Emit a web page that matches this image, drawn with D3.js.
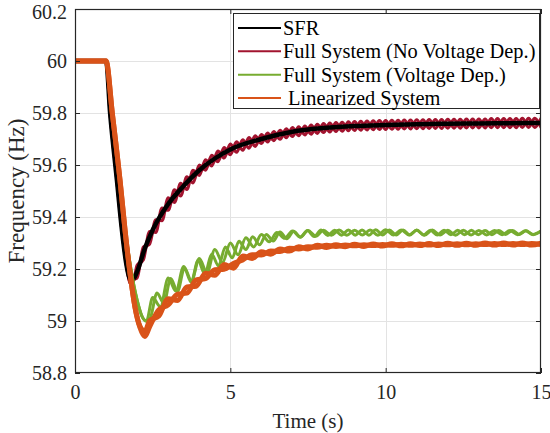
<!DOCTYPE html>
<html>
<head>
<meta charset="utf-8">
<script src="https://cdn.jsdelivr.net/npm/d3@7"></script>
<style>
  html, body { margin: 0; padding: 0; background: #fff; }
  svg { display: block; font-family: "Liberation Serif", "Times New Roman", serif; }
  .legend text { white-space: pre; }
</style>
</head>
<body>
<svg id="chart" width="550" height="433"></svg>
<script>
// Axis ticks
const xTicks = [0, 5, 10, 15];
const yTicks = [58.8, 59, 59.2, 59.4, 59.6, 59.8, 60, 60.2];

// Legend entries
const seriesNames = ["SFR", "Full System (No Voltage Dep.)", "Full System (Voltage Dep.)", " Linearized System"];

// SFR model response
const sfrTime = [0, 1.0, 1.13, 1.35, 1.51, 1.65, 1.8, 1.9, 2.0, 2.25, 2.5, 3.0, 3.5, 4.0, 4.5, 5.0, 6.0, 7.0, 8.0, 9.0, 10.0, 11.0, 12.0, 13.0, 14.0, 15.0];
const sfrFreq = [60, 60, 59.8, 59.54, 59.35, 59.22, 59.158, 59.165, 59.19, 59.28, 59.35, 59.45, 59.52, 59.58, 59.625, 59.66, 59.70, 59.728, 59.742, 59.75, 59.754, 59.757, 59.759, 59.76, 59.761, 59.762];

// Full system without voltage dependence (two bus traces)
const noVdTime = [0, 1.0, 1.13, 1.35, 1.51, 1.65, 1.8, 1.9,
  2.0, 2.2, 2.4, 2.6, 2.8, 3.0, 3.2, 3.4, 3.6, 3.8, 4.0, 4.2, 4.4, 4.6, 4.8, 5.0, 5.2, 5.4, 5.6, 5.8,
  6.0, 6.2, 6.4, 6.6, 6.8, 7.0, 7.2, 7.4, 7.6, 7.8, 8.0, 8.2, 8.4, 8.6, 8.8, 9.0, 9.2, 9.4, 9.6, 9.8,
  10.0, 10.2, 10.4, 10.6, 10.8, 11.0, 11.2, 11.4, 11.6, 11.8, 12.0, 12.2, 12.4, 12.6, 12.8, 13.0, 13.2, 13.4, 13.6, 13.8,
  14.0, 14.2, 14.4, 14.6, 14.8, 15.0];
const noVdFreqA = [60, 60, 59.8, 59.54, 59.35, 59.22, 59.142, 59.16,
  59.214, 59.236, 59.344, 59.341, 59.434, 59.426, 59.504, 59.481, 59.554, 59.531, 59.600, 59.580, 59.637, 59.613, 59.667, 59.640, 59.689, 59.657, 59.705, 59.672,
  59.717, 59.689, 59.728, 59.699, 59.739, 59.710, 59.747, 59.716, 59.753, 59.722, 59.759, 59.727, 59.763, 59.730, 59.766, 59.733, 59.768, 59.735, 59.770, 59.737,
  59.771, 59.738, 59.772, 59.739, 59.773, 59.740, 59.774, 59.741, 59.775, 59.741, 59.776, 59.742, 59.776, 59.743, 59.777, 59.743, 59.777, 59.744, 59.778, 59.744,
  59.778, 59.744, 59.779, 59.745, 59.779, 59.745];
const noVdFreqB = [60, 60, 59.8, 59.54, 59.35, 59.22, 59.142, 59.16,
  59.166, 59.284, 59.296, 59.389, 59.386, 59.474, 59.456, 59.529, 59.506, 59.579, 59.560, 59.620, 59.597, 59.653, 59.627, 59.680, 59.649, 59.697, 59.665, 59.712,
  59.683, 59.723, 59.694, 59.733, 59.705, 59.744, 59.713, 59.750, 59.719, 59.756, 59.725, 59.761, 59.729, 59.764, 59.732, 59.767, 59.734, 59.769, 59.736, 59.771,
  59.737, 59.772, 59.738, 59.773, 59.739, 59.774, 59.740, 59.775, 59.741, 59.775, 59.742, 59.776, 59.742, 59.777, 59.743, 59.777, 59.743, 59.778, 59.744, 59.778,
  59.744, 59.778, 59.745, 59.779, 59.745, 59.779];

// Full system with voltage dependence (two bus traces with slightly different swing periods)
const vdTimeA = [0, 1.0, 1.2, 1.45, 1.6, 1.8, 2.0, 2.15, 2.3,
  2.5, 2.75, 3.0, 3.25, 3.5, 3.75, 4.0, 4.25, 4.5, 4.75, 5.0, 5.25, 5.5, 5.75, 6.0, 6.25, 6.5, 6.75,
  7.0, 7.25, 7.5, 7.75, 8.0, 8.25, 8.5, 8.75, 9.0, 9.25, 9.5, 9.75, 10.0, 10.25, 10.5, 10.75,
  11.0, 11.25, 11.5, 11.75, 12.0, 12.25, 12.5, 12.75, 13.0, 13.25, 13.5, 13.75, 14.0, 14.25, 14.5, 14.75, 15.0];
const vdFreqA = [60, 60, 59.8, 59.54, 59.37, 59.2, 59.08, 59.02, 59.0,
  59.090, 59.055, 59.165, 59.115, 59.210, 59.155, 59.240, 59.185, 59.275, 59.225, 59.300, 59.255, 59.320, 59.285, 59.333, 59.305, 59.340, 59.318,
  59.346, 59.323, 59.348, 59.326, 59.349, 59.330, 59.350, 59.330, 59.349, 59.331, 59.350, 59.330, 59.351, 59.331, 59.350, 59.331,
  59.349, 59.330, 59.350, 59.331, 59.349, 59.330, 59.349, 59.331, 59.348, 59.331, 59.348, 59.332, 59.348, 59.332, 59.347, 59.332, 59.346];
const vdTimeB = [0, 1.0, 1.2, 1.45, 1.6, 1.8, 2.0, 2.15, 2.3,
  2.42, 2.64, 2.86, 3.08, 3.30, 3.52, 3.74, 3.96, 4.18, 4.40, 4.62, 4.84, 5.06, 5.28, 5.50, 5.72, 5.94, 6.16, 6.38, 6.60,
  6.82, 7.04, 7.26, 7.48, 7.70, 7.92, 8.14, 8.36, 8.58, 8.80, 9.02, 9.24, 9.46, 9.68, 9.90, 10.12, 10.34, 10.56, 10.78,
  11.00, 11.22, 11.44, 11.66, 11.88, 12.10, 12.32, 12.54, 12.76, 12.98, 13.20, 13.42, 13.64, 13.86, 14.08, 14.30, 14.52, 14.74, 15.0];
const vdFreqB = [60, 60, 59.8, 59.54, 59.37, 59.2, 59.08, 59.02, 59.0,
  59.010, 59.108, 59.068, 59.163, 59.114, 59.202, 59.149, 59.233, 59.181, 59.257, 59.212, 59.285, 59.243, 59.307, 59.275, 59.324, 59.293, 59.333, 59.308, 59.342,
  59.316, 59.345, 59.322, 59.348, 59.325, 59.350, 59.329, 59.349, 59.330, 59.350, 59.330, 59.350, 59.330, 59.351, 59.331, 59.350, 59.331, 59.350, 59.331,
  59.350, 59.331, 59.349, 59.331, 59.349, 59.332, 59.349, 59.332, 59.349, 59.332, 59.348, 59.332, 59.348, 59.333, 59.348, 59.333, 59.347, 59.333, 59.346];

// Linearized system (two bus traces)
const linTime = [0, 1.0, 1.2, 1.45, 1.61, 1.77, 1.93, 2.09, 2.25,
  2.4, 2.7, 3.0, 3.3, 3.6, 3.9, 4.2, 4.5, 4.8, 5.1, 5.4, 5.7, 6.0, 6.3, 6.6, 6.9, 7.2, 7.5, 7.8,
  8.1, 8.4, 8.7, 9.0, 9.3, 9.6, 9.9, 10.2, 10.5, 10.8, 11.1, 11.4, 11.7, 12.0, 12.3, 12.6, 12.9,
  13.2, 13.5, 13.8, 14.1, 14.4, 14.7, 15.0];
const linFreqA = [60, 60, 59.8, 59.54, 59.35, 59.185, 59.054, 58.98, 58.96,
  59.001, 59.019, 59.086, 59.079, 59.131, 59.134, 59.184, 59.176, 59.217, 59.203, 59.250, 59.240, 59.266, 59.257, 59.277, 59.269, 59.286, 59.277, 59.291,
  59.283, 59.293, 59.286, 59.295, 59.287, 59.296, 59.288, 59.297, 59.289, 59.297, 59.290, 59.298, 59.290, 59.299, 59.291, 59.299, 59.291,
  59.300, 59.292, 59.300, 59.292, 59.300, 59.292, 59.300];
const linFreqB = [60, 60, 59.8, 59.54, 59.35, 59.185, 59.054, 58.975, 58.94,
  58.977, 59.043, 59.062, 59.103, 59.107, 59.158, 59.163, 59.197, 59.199, 59.221, 59.235, 59.255, 59.254, 59.269, 59.267, 59.280, 59.277, 59.286, 59.284,
  59.291, 59.287, 59.292, 59.289, 59.293, 59.290, 59.294, 59.291, 59.295, 59.291, 59.296, 59.292, 59.296, 59.293, 59.297, 59.293, 59.297,
  59.294, 59.298, 59.294, 59.298, 59.294, 59.298, 59.294];

const colors = ["#000000", "#A2142F", "#77AC30", "#D95319"];

const svg = d3.select("#chart");
const plotLeft = 75, plotRight = 541, plotTop = 9, plotBottom = 373;

const x = d3.scaleLinear().domain([0, 15]).range([plotLeft, plotRight]);
const y = d3.scaleLinear().domain([58.8, 60.2]).range([plotBottom, plotTop]);

// Grid
const grid = svg.append("g").attr("stroke", "#e3e3e3").attr("stroke-width", 1);
grid.selectAll("line.gx").data(xTicks.slice(1, -1)).join("line")
  .attr("x1", d => Math.round(x(d)) + 0.5).attr("x2", d => Math.round(x(d)) + 0.5)
  .attr("y1", plotTop).attr("y2", plotBottom);
grid.selectAll("line.gy").data(yTicks.slice(1, -1)).join("line")
  .attr("y1", d => Math.round(y(d)) + 0.5).attr("y2", d => Math.round(y(d)) + 0.5)
  .attr("x1", plotLeft).attr("x2", plotRight);

// Series
svg.append("defs").append("clipPath").attr("id", "plotClip")
  .append("rect").attr("x", plotLeft).attr("y", plotTop)
  .attr("width", plotRight - plotLeft).attr("height", plotBottom - plotTop);
const plot = svg.append("g").attr("clip-path", "url(#plotClip)");

function trace(times, vals, color, width) {
  const line = d3.line().x((d, i) => x(times[i])).y(d => y(d)).curve(d3.curveMonotoneX);
  plot.append("path").datum(vals)
    .attr("d", line)
    .attr("fill", "none")
    .attr("stroke", color)
    .attr("stroke-width", width)
    .attr("stroke-linejoin", "round")
    .attr("stroke-linecap", "round");
}

trace(noVdTime, noVdFreqA, colors[1], 3.2);
trace(noVdTime, noVdFreqB, colors[1], 3.2);
trace(sfrTime, sfrFreq, colors[0], 4.5);
trace(vdTimeA, vdFreqA, colors[2], 3);
trace(vdTimeB, vdFreqB, colors[2], 3);
trace(linTime, linFreqA, colors[3], 5);
trace(linTime, linFreqB, colors[3], 5);

// Axes (inward ticks on all four sides)
const axisColor = "#262626";
function styleAxis(g, showText) {
  g.select(".domain").remove();
  g.selectAll(".tick line").attr("stroke", axisColor);
  g.selectAll(".tick text").attr("fill", axisColor)
    .attr("font-family", "Liberation Serif, Times New Roman, serif")
    .attr("font-size", 20);
  if (!showText) g.selectAll(".tick text").remove();
}

svg.append("g").attr("transform", `translate(0,${plotBottom})`)
  .call(d3.axisBottom(x).tickValues(xTicks).tickSizeInner(-5).tickSizeOuter(0).tickPadding(12).tickFormat(d3.format("d")))
  .call(g => styleAxis(g, true));
svg.append("g").attr("transform", `translate(0,${plotTop})`)
  .call(d3.axisTop(x).tickValues(xTicks).tickSizeInner(-5).tickSizeOuter(0))
  .call(g => styleAxis(g, false));
svg.append("g").attr("transform", `translate(${plotLeft},0)`)
  .call(d3.axisLeft(y).tickValues(yTicks).tickSizeInner(-5).tickSizeOuter(0).tickPadding(8).tickFormat(d => String(+d.toFixed(1))))
  .call(g => styleAxis(g, true))
  .call(g => g.selectAll(".tick text").filter(d => d === 60.2).attr("dy", "0.45em"));
svg.append("g").attr("transform", `translate(${plotRight},0)`)
  .call(d3.axisRight(y).tickValues(yTicks).tickSizeInner(-5).tickSizeOuter(0))
  .call(g => styleAxis(g, false));

// Box
svg.append("rect")
  .attr("x", plotLeft + 0.5).attr("y", plotTop + 0.5)
  .attr("width", plotRight - plotLeft - 1).attr("height", plotBottom - plotTop - 1)
  .attr("fill", "none").attr("stroke", axisColor).attr("stroke-width", 1.2);

// Axis titles
svg.append("text")
  .attr("x", (plotLeft + plotRight) / 2).attr("y", 428)
  .attr("text-anchor", "middle").attr("font-size", 21).attr("fill", axisColor)
  .text("Time (s)");
svg.append("text")
  .attr("transform", `translate(24,${(plotTop + plotBottom) / 2}) rotate(-90)`)
  .attr("text-anchor", "middle").attr("font-size", 23).attr("fill", axisColor)
  .text("Frequency (Hz)");

// Legend
const legend = svg.append("g").attr("class", "legend");
legend.append("rect")
  .attr("x", 233.5).attr("y", 13.5).attr("width", 306).attr("height", 95)
  .attr("fill", "#fff").attr("stroke", axisColor).attr("stroke-width", 1);
const rowY = d3.scaleLinear().domain([0, 3]).range([28, 98]);
seriesNames.forEach((name, i) => {
  legend.append("line")
    .attr("x1", 238).attr("x2", 281)
    .attr("y1", rowY(i)).attr("y2", rowY(i))
    .attr("stroke", colors[i]).attr("stroke-width", 2);
  legend.append("text")
    .attr("x", 283).attr("y", rowY(i))
    .attr("dy", "0.35em")
    .attr("font-size", 20.4).attr("fill", "#000")
    .text(name);
});
</script>
</body>
</html>
